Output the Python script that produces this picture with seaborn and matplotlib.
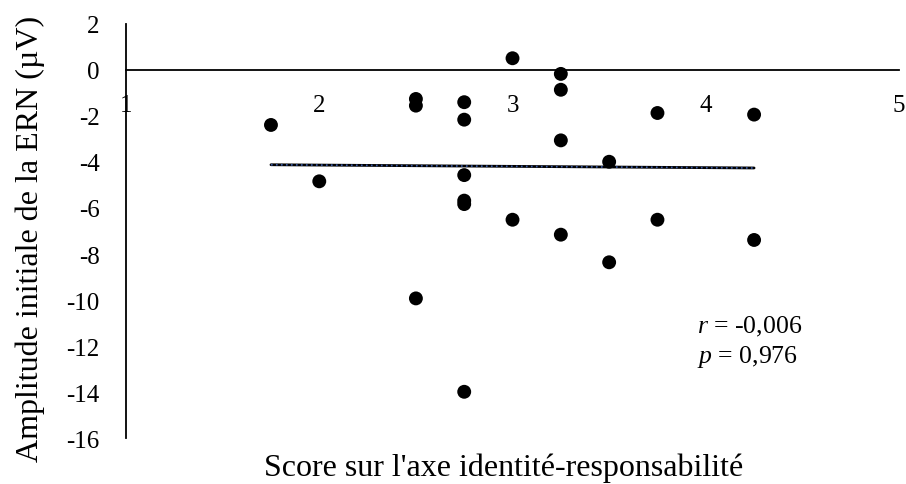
import numpy as np
import pandas as pd
import matplotlib
matplotlib.use("Agg")
import matplotlib.pyplot as plt
import seaborn as sns

# Scores on the identity-responsibility axis and initial ERN amplitude (µV)
score = [1.75, 2.00,
         2.50, 2.50, 2.50,
         2.75, 2.75, 2.75, 2.75, 2.75, 2.75,
         3.00, 3.00,
         3.25, 3.25, 3.25, 3.25,
         3.50, 3.50,
         3.75, 3.75,
         4.25, 4.25]
ern = [-2.39, -4.84,
       -1.26, -1.55, -9.93,
       -1.40, -2.16, -4.57, -5.68, -5.83, -13.99,
       0.51, -6.51,
       -0.17, -0.86, -3.06, -7.16,
       -3.99, -8.36,
       -1.87, -6.51,
       -1.94, -7.39]

# Linear trend line endpoints
trend_x = [1.75, 4.25]
trend_y = [-4.12, -4.26]

x_ticks = [1, 2, 3, 4, 5]
y_ticks = [2, 0, -2, -4, -6, -8, -10, -12, -14, -16]

sns.set_theme(style="white")
plt.rcParams["font.family"] = ["Liberation Serif", "DejaVu Serif"]
plt.rcParams["mathtext.fontset"] = "custom"
plt.rcParams["mathtext.rm"] = "Liberation Serif"
plt.rcParams["mathtext.it"] = "Liberation Serif:italic"

df = pd.DataFrame({"score": score, "ern": ern})
trend = pd.DataFrame({"x": trend_x, "y": trend_y})

fig = plt.figure(figsize=(9.06, 4.85), dpi=100)
ax = fig.add_axes([0.1391, 0.0948, 0.9923 - 0.1391, 0.9485 - 0.0948])

sns.lineplot(data=trend, x="x", y="y", ax=ax, color="black", linewidth=2.0, zorder=2)
sns.lineplot(data=trend, x="x", y="y", ax=ax, color="#3b5ba8", linewidth=1.2,
             linestyle=(0, (1, 2)), zorder=3)
sns.scatterplot(data=df, x="score", y="ern", ax=ax, color="black", s=100,
                edgecolor="none", zorder=4)

ax.set_xlim(1, 5)
ax.set_ylim(-16, 2)
ax.set_xticks(x_ticks)
ax.set_xticklabels([str(v) for v in x_ticks])
ax.set_yticks(y_ticks)
ax.set_yticklabels([str(v) for v in y_ticks])

for side in ["top", "right"]:
    ax.spines[side].set_visible(False)
ax.spines["bottom"].set_position(("data", 0))
for side in ["bottom", "left"]:
    ax.spines[side].set_linewidth(1.3)
    ax.spines[side].set_color("black")

ax.tick_params(axis="x", length=0, pad=17, labelsize=18, colors="black")
ax.tick_params(axis="y", length=0, pad=19, labelsize=18, colors="black")

ax.set_xlabel("Score sur l'axe identité-responsabilité", fontsize=23, color="black")
ax.set_ylabel("Amplitude initiale de la ERN (µV)", fontsize=23, color="black")
ax.xaxis.set_label_coords(0.488, -0.035)
ax.yaxis.set_label_coords(-0.105, 0.483)

ax.text(3.955, -11.43, r"$\it{r}$ = -0,006", fontsize=18.5, color="black", va="baseline")
ax.text(3.955, -12.71, r"$\it{p}$ = 0,976", fontsize=18.5, color="black", va="baseline")

ax.grid(False)
fig.savefig("out.png", dpi=100)
